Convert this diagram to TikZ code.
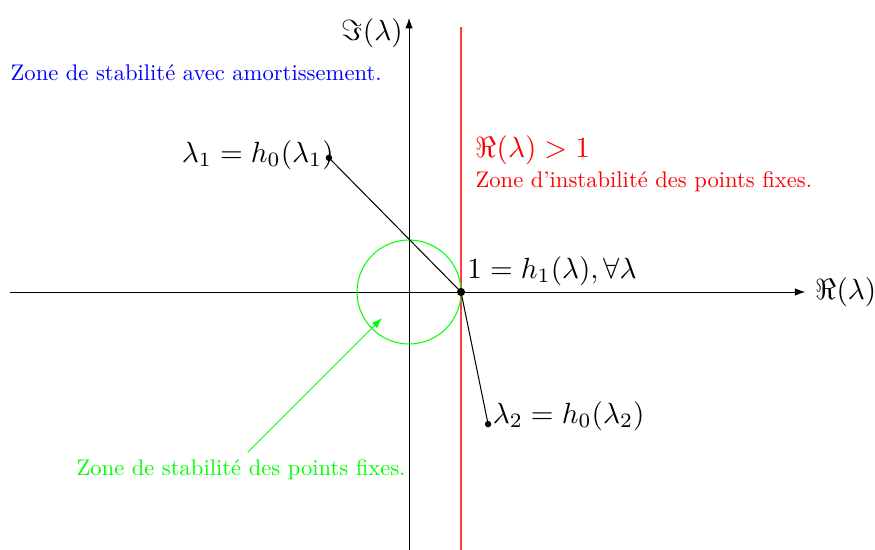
\documentclass[tikz,border=0pt]{standalone}
\usetikzlibrary{positioning, arrows.meta, calc}
\usepackage{amsmath, amssymb}

\newcommand{\petit}[1]{\scalebox{0.775}{#1}}

\begin{document}
\begin{tikzpicture}[>={Latex[length=3.6pt, width=2.6pt]}, x=0.6265cm, y=0.6265cm,
      line width=0.35pt,
      axis/.style={->},
      dot/.style={circle, fill, inner sep=0pt, minimum size=2.2pt},
      note/.style={inner sep=0pt, anchor=west}]
    \useasboundingbox (-7.865,-4.96) rectangle (8.96,5.615);

    % axes
    \coordinate (xmin) at (-7.67,0);
    \coordinate (xmax) at (7.62,0);
    \coordinate (ymin) at (0,-4.96);
    \coordinate (ymax) at (0,5.27);
    \draw[axis] (xmin) -- (xmax) node[right] {$\Re(\lambda)$};
    \draw[axis] (ymin) -- (ymax) node[anchor=north east, inner sep=0pt, xshift=-2pt] {$\Im(\lambda)$};

    % droite Re = 1 et cercle unite
    \coordinate (rbot) at (1,-4.96);
    \coordinate (rtop) at (1,5.1);
    \draw[red!75, line width=0.4pt] (rbot) -- (rtop);
    \draw[green] (0,0) circle (1);

    % points
    \node[dot, minimum size=2.8pt] (one) at (1,0) {};
    \node[dot] (lone) at (-1.54,2.58) {};
    \node[dot] (ltwo) at (1.52,-2.54) {};
    \draw (lone.center) -- (one.center) -- (ltwo.center);

    \node[anchor=east, inner sep=0pt] at ($(lone)+(0.1,0.06)$) {$\lambda_1 = h_0(\lambda_1)$};
    \node[anchor=west, inner sep=0pt] at ($(ltwo)+(0.08,0.15)$) {$\lambda_2 = h_0(\lambda_2)$};
    \node[above right, inner sep=2pt] at (one) {$1 = h_1(\lambda), \forall\lambda$};

    % zones
    \node[red, anchor=west, inner sep=0pt] (instab) at (1.27,2.73) {$\Re(\lambda) > 1$};
    \node[note, red] at (1.27,2.13) {\petit{Zone d'instabilit\'e des points fixes.}};
    \node[note, blue] at (-7.67,4.21) {\petit{Zone de stabilit\'e avec amortissement.}};
    \node[note, green, anchor=center] (stab) at (-3.23,-3.42) {\petit{Zone de stabilit\'e des points fixes.}};
    \coordinate (stabfoot) at (-3.10,-3.08);
    \coordinate (stabtip) at (-0.52,-0.5);
    \draw[->, green] (stabfoot) -- (stabtip);
\end{tikzpicture}
\end{document}
